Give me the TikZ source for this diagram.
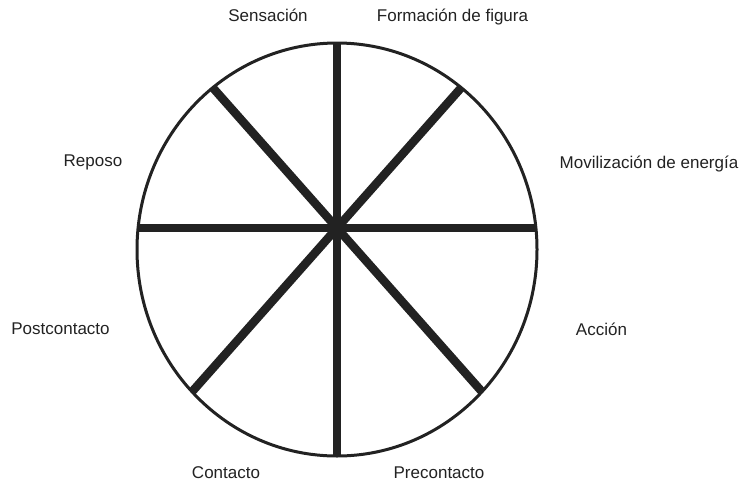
\documentclass[tikz,border=0pt]{standalone}
\usepackage{fontspec}
\setmainfont{Liberation Sans}
\definecolor{ink}{HTML}{222222}
\begin{document}
\begin{tikzpicture}[x=1pt,y=-1pt,
  rim/.style={draw=ink,line width=3pt},
  spoke/.style={draw=ink,line width=8.5pt,line cap=butt},
  lab/.style={font=\fontsize{17}{20}\selectfont,text=ink,anchor=base,inner sep=0pt}]
\useasboundingbox (0,0) rectangle (743,482);
\coordinate (P) at (337,228);
\coordinate (top) at (337,43);
\coordinate (bot) at (337,456);
\coordinate (lft) at (138.5,228);
\coordinate (rgt) at (535.5,228);
\coordinate (ul) at (212.8,87.7);
\coordinate (ur) at (461.2,87.7);
\coordinate (ll) at (192,391.8);
\coordinate (lr) at (482,391.8);
\draw[rim] (337,249.5) ellipse [x radius=200, y radius=206.5];
\draw[spoke] (top) -- (bot);
\draw[spoke] (lft) -- (rgt);
\draw[spoke] (ul) -- (lr);
\draw[spoke] (ur) -- (ll);
\node[lab] (sens) at (268,21.7) {Sensación};
\node[lab] (form) at (452.5,21.7) {Formación de figura};
\node[lab] (movi) at (649,168) {Movilización de energía};
\node[lab] (acci) at (601.5,335) {Acción};
\node[lab] (prec) at (439,478) {Precontacto};
\node[lab] (cont) at (226,478) {Contacto};
\node[lab] (repo) at (93,166.7) {Reposo};
\node[lab] (post) at (60.5,334.3) {Postcontacto};
\end{tikzpicture}
\end{document}
